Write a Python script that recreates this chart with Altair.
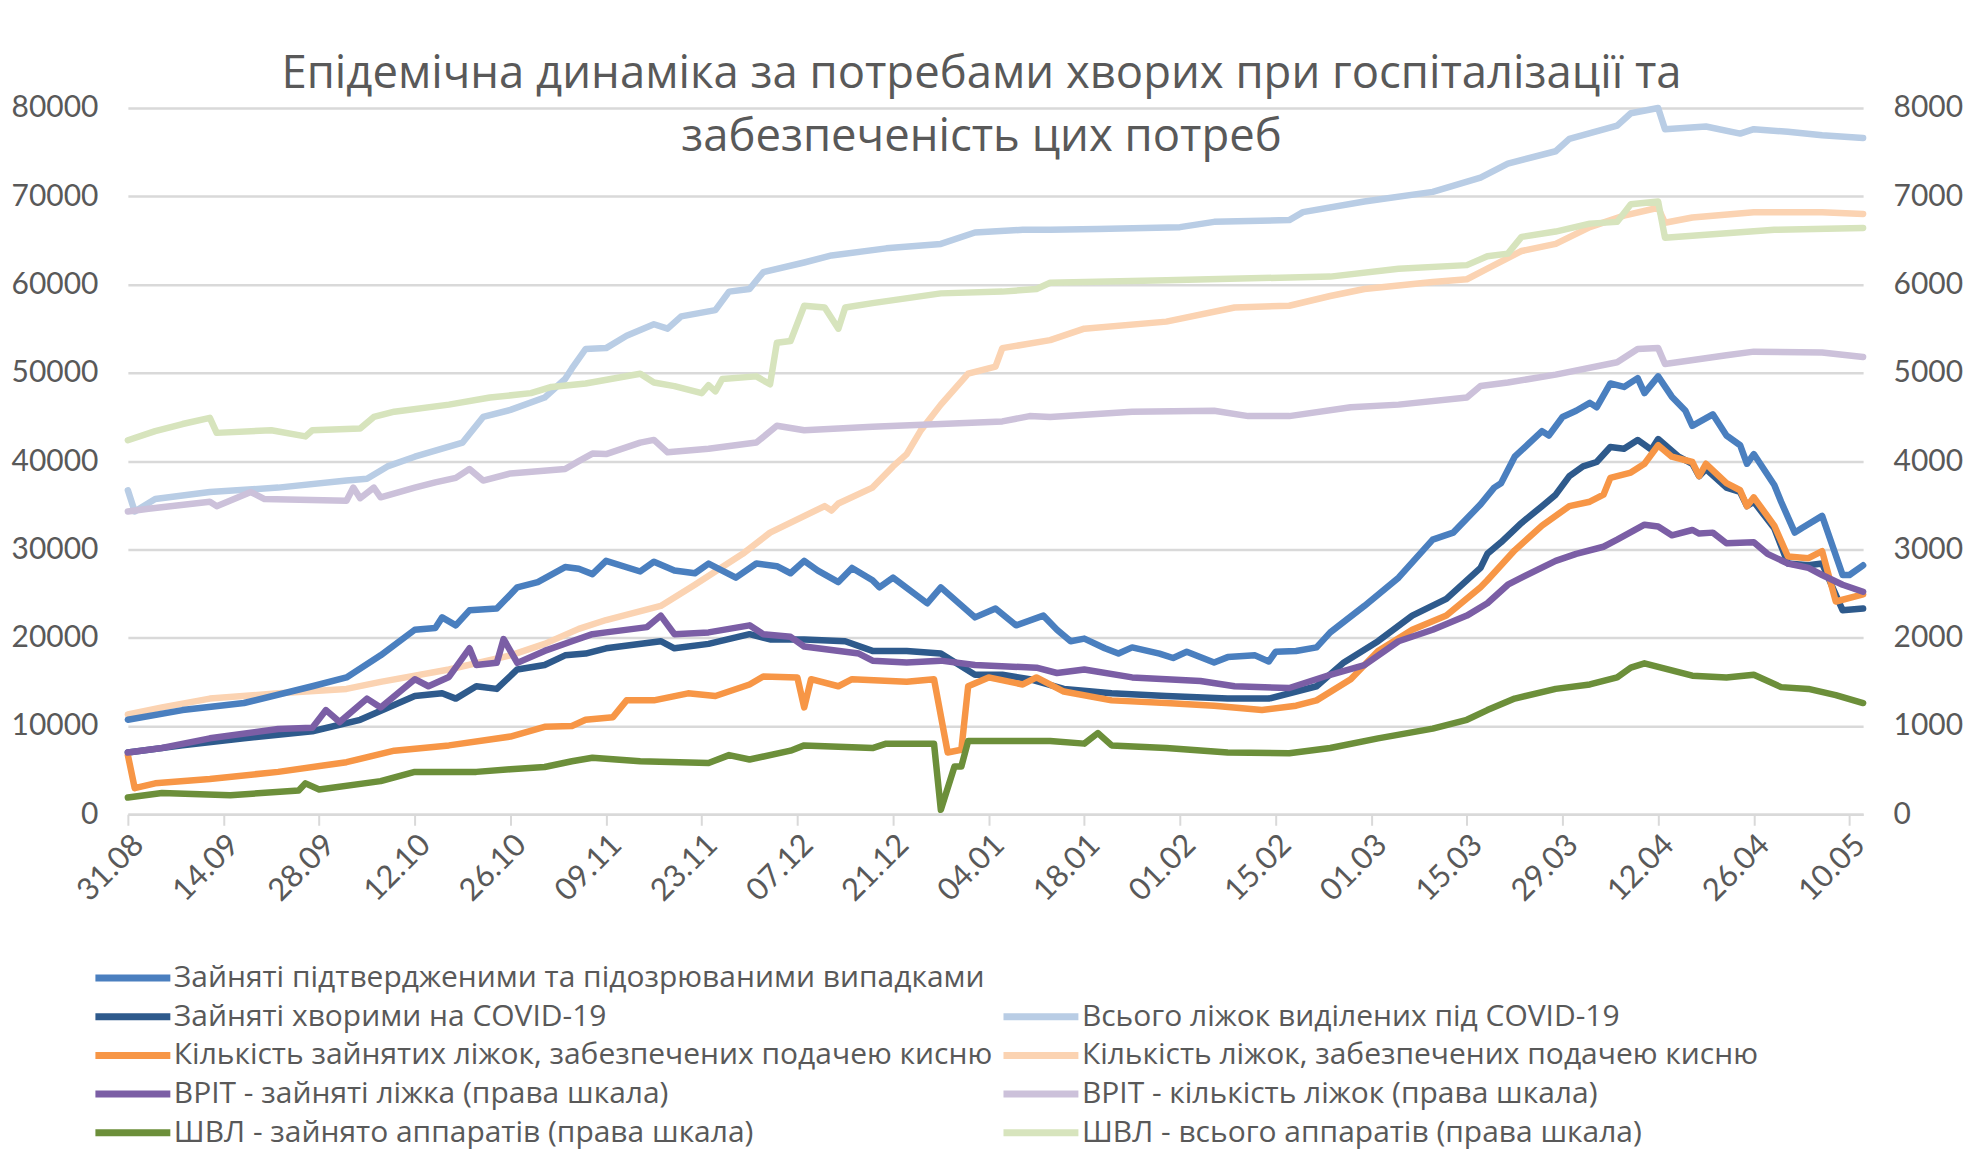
import altair as alt
import pandas as pd

START = pd.Timestamp("2020-08-31")
X_END = "2021-05-12"
TICK_DATES = ["2020-08-31", "2020-09-14", "2020-09-28", "2020-10-12", "2020-10-26",
              "2020-11-09", "2020-11-23", "2020-12-07", "2020-12-21", "2021-01-04",
              "2021-01-18", "2021-02-01", "2021-02-15", "2021-03-01", "2021-03-15",
              "2021-03-29", "2021-04-12", "2021-04-26", "2021-05-10"]

TITLE = ["Епідемічна динаміка за потребами хворих при госпіталізації та",
         "забезпеченість цих потреб"]

N_OCC = "Зайняті підтвердженими та підозрюваними випадками"
N_COV = "Зайняті хворими на COVID-19"
N_O2OCC = "Кількість зайнятих ліжок, забезпечених подачею кисню"
N_ICUOCC = "ВРІТ - зайняті ліжка (права шкала)"
N_VENTOCC = "ШВЛ - зайнято аппаратів (права шкала)"
N_TOTAL = "Всього ліжок виділених під COVID-19"
N_O2 = "Кількість ліжок, забезпечених подачею кисню"
N_ICU = "ВРІТ - кількість ліжок (права шкала)"
N_VENT = "ШВЛ - всього аппаратів (права шкала)"

# day offsets from 31.08.2020 and values
OCC_D = [0, 8, 17, 27, 32, 37, 42, 45, 46, 48, 50, 54, 57, 60, 64, 66, 68, 70, 75, 77, 80, 83, 85, 87, 89,
         92, 95, 97, 99, 101, 104, 106, 109, 110, 112, 117, 119, 124, 127, 130, 134, 136, 138, 140, 143,
         145, 147, 151, 153, 155, 159, 161, 165, 167, 168, 171, 174, 176, 181, 186, 191, 194, 198, 200,
         201, 203, 207, 208, 210, 212, 214, 215, 217, 219, 221, 222, 224, 226, 228, 229, 232, 234, 236,
         237, 238, 241, 242, 244, 245, 248, 251, 252, 254]
OCC_V = [10700, 11800, 12600, 14500, 15500, 18000, 20900, 21100, 22300, 21400, 23100, 23300, 25700, 26300,
         28000, 27800, 27200, 28700, 27500, 28600, 27600, 27300, 28400, 27600, 26800, 28400, 28100, 27300,
         28700, 27600, 26300, 27900, 26500, 25700, 26800, 23900, 25700, 22300, 23300, 21400, 22500, 20900,
         19600, 19900, 18800, 18200, 18900, 18200, 17700, 18400, 17200, 17800, 18000, 17300, 18400, 18500,
         18900, 20600, 23600, 26800, 31100, 31900, 35100, 37000, 37500, 40500, 43400, 42900, 45000, 45700,
         46600, 46100, 48800, 48400, 49400, 47700, 49600, 47300, 45700, 44000, 45300, 42900, 41800, 39700,
         40800, 37300, 35400, 31900, 32400, 33800, 27100, 27100, 28200]

COV_D = [0, 8, 17, 27, 34, 42, 46, 48, 51, 54, 57, 61, 64, 67, 70, 78, 80, 85, 91, 94, 99, 105, 109, 114,
         119, 124, 128, 132, 137, 144, 152, 161, 167, 174, 178, 183, 188, 193, 198, 199, 201, 204, 207,
         209, 211, 213, 215, 217, 219, 221, 223, 224, 227, 229, 230, 231, 234, 236, 237, 238, 241, 243,
         246, 248, 251, 254]
COV_V = [7000, 7800, 8600, 9400, 10700, 13400, 13700, 13100, 14500, 14200, 16400, 16900, 18000, 18200,
         18800, 19600, 18800, 19300, 20400, 19800, 19800, 19600, 18500, 18500, 18200, 15800, 15800, 15300,
         14200, 13700, 13400, 13100, 13100, 14500, 17200, 19600, 22500, 24400, 27900, 29500, 30800, 33000,
         34900, 36200, 38300, 39400, 39900, 41600, 41400, 42400, 41300, 42500, 40500, 39700, 38300, 39100,
         37000, 36500, 34900, 35400, 32400, 28400, 28200, 28400, 23100, 23300]

O2OCC_D = [0, 1, 4, 12, 22, 32, 39, 47, 56, 61, 65, 67, 71, 73, 77, 82, 86, 91, 93, 98, 99, 100, 104, 106,
           114, 118, 120, 122, 123, 126, 131, 133, 137, 144, 152, 159, 166, 171, 174, 179, 183, 188, 193,
           198, 199, 203, 207, 211, 214, 216, 217, 220, 222, 224, 226, 229, 230, 231, 234, 236, 237, 238,
           241, 243, 246, 248, 250, 254]
O2OCC_V = [6700, 2950, 3500, 4000, 4800, 5900, 7200, 7800, 8800, 9900, 10000, 10700, 11000, 12900, 12900,
           13700, 13400, 14700, 15600, 15500, 12100, 15300, 14500, 15300, 15000, 15300, 7000, 7300, 14500,
           15500, 14700, 15500, 13900, 12900, 12600, 12300, 11800, 12300, 12900, 15300, 18500, 20900, 22500,
           25700, 26500, 29900, 32700, 34900, 35400, 36200, 38100, 38700, 39700, 41800, 40500, 39900, 38300,
           39700, 37500, 36700, 34900, 35900, 32700, 29200, 29000, 29800, 24100, 24900]

TOTAL_D = [0, 1, 4, 12, 22, 32, 35, 38, 42, 49, 52, 56, 61, 64, 65, 67, 70, 73, 77, 79, 81, 86, 88, 91, 93,
           99, 103, 111, 119, 124, 131, 135, 142, 154, 159, 170, 172, 181, 191, 198, 202, 209, 211, 218,
           220, 224, 225, 231, 236, 238, 243, 248, 254]
TOTAL_V = [36700, 34300, 35700, 36500, 37000, 37800, 38000, 39400, 40500, 42100, 45000, 45800, 47200, 49300,
           50500, 52700, 52800, 54200, 55500, 55000, 56400, 57100, 59200, 59500, 61400, 62500, 63300, 64100,
           64600, 65900, 66200, 66200, 66300, 66500, 67100, 67300, 68200, 69400, 70500, 72100, 73700, 75100,
           76500, 78000, 79400, 80000, 77600, 77900, 77100, 77600, 77300, 76900, 76600]

O2_D = [0, 5, 12, 22, 32, 37, 47, 56, 61, 66, 70, 78, 83, 90, 94, 102, 103, 104, 109, 112, 114, 116, 119,
        123, 127, 128, 135, 140, 152, 162, 170, 176, 181, 191, 196, 199, 204, 209, 214, 219, 224, 225, 229,
        238, 248, 254]
O2_V = [11300, 12100, 13100, 13700, 14200, 15000, 16400, 18000, 19300, 21000, 22000, 23600, 26000, 29500,
        31900, 34900, 34400, 35200, 37000, 39400, 40800, 43400, 46400, 49900, 50700, 52800, 53700, 55000,
        55800, 57400, 57600, 58700, 59500, 60300, 60600, 61800, 63800, 64600, 66500, 67800, 68700, 67000,
        67600, 68200, 68200, 68000]

ICUOCC_D = [0, 5, 12, 22, 27, 29, 31, 35, 37, 42, 44, 47, 50, 51, 54, 55, 57, 61, 65, 68, 70, 76, 78, 80,
            85, 91, 93, 97, 99, 107, 109, 114, 119, 124, 133, 136, 140, 147, 157, 162, 170, 176, 181, 186,
            191, 196, 199, 202, 204, 209, 212, 216, 218, 222, 224, 226, 229, 230, 232, 234, 238, 240, 243,
            246, 248, 251, 254]
ICUOCC_V = [700, 750, 860, 965, 980, 1180, 1045, 1310, 1210, 1530, 1450, 1555, 1880, 1690, 1715, 1985, 1715,
            1850, 1960, 2040, 2060, 2120, 2250, 2040, 2060, 2140, 2040, 2010, 1900, 1820, 1740, 1720, 1740,
            1690, 1660, 1600, 1640, 1550, 1510, 1450, 1430, 1580, 1690, 1960, 2090, 2250, 2390, 2600, 2680,
            2870, 2950, 3030, 3110, 3280, 3260, 3160, 3220, 3180, 3190, 3070, 3080, 2950, 2840, 2790, 2710,
            2600, 2520]

ICU_D = [0, 3, 12, 13, 18, 20, 32, 33, 34, 36, 37, 42, 45, 48, 50, 52, 56, 64, 66, 68, 70, 75, 77, 79, 85,
         92, 95, 99, 109, 119, 128, 132, 135, 147, 159, 164, 170, 179, 186, 196, 198, 202, 209, 218, 221,
         224, 225, 234, 238, 248, 254]
ICU_V = [3430, 3460, 3540, 3490, 3650, 3570, 3550, 3700, 3580, 3700, 3590, 3700, 3760, 3810, 3910, 3780,
         3860, 3910, 4000, 4085, 4080, 4210, 4240, 4100, 4140, 4210, 4400, 4350, 4390, 4420, 4450, 4510,
         4500, 4560, 4570, 4510, 4510, 4610, 4640, 4720, 4850, 4890, 4980, 5120, 5270, 5280, 5100, 5200,
         5240, 5230, 5180]

VENTOCC_D = [0, 5, 15, 25, 26, 28, 37, 42, 51, 56, 61, 65, 68, 75, 85, 88, 91, 97, 99, 109, 111, 118, 119,
             121, 122, 123, 135, 140, 142, 144, 152, 161, 170, 176, 183, 191, 196, 199, 203, 209, 214, 218,
             220, 222, 229, 234, 238, 242, 246, 250, 254]
VENTOCC_V = [190, 240, 215, 270, 350, 280, 375, 480, 480, 510, 535, 600, 640, 600, 580, 670, 620, 720, 780,
             750, 800, 800, 50, 540, 540, 830, 830, 800, 920, 780, 750, 700, 690, 750, 860, 970, 1070, 1180,
             1310, 1420, 1470, 1550, 1660, 1710, 1570, 1550, 1580, 1440, 1420, 1350, 1260]

VENT_D = [0, 4, 8, 12, 13, 21, 26, 27, 34, 36, 39, 47, 53, 59, 62, 67, 75, 77, 80, 84, 85, 86, 87, 92, 94,
          95, 97, 99, 102, 104, 105, 109, 119, 128, 133, 135, 152, 176, 186, 196, 199, 202, 204, 209, 214,
          218, 220, 224, 225, 234, 241, 254]
VENT_V = [4236, 4340, 4420, 4490, 4320, 4350, 4280, 4350, 4370, 4500, 4560, 4640, 4720, 4770, 4840, 4880,
          4990, 4890, 4850, 4770, 4860, 4790, 4930, 4960, 4870, 5340, 5360, 5760, 5740, 5500, 5740, 5790,
          5900, 5920, 5950, 6020, 6050, 6090, 6180, 6220, 6320, 6350, 6540, 6600, 6690, 6710, 6910, 6940,
          6530, 6580, 6620, 6640]

DARK_NAMES = [N_OCC, N_COV, N_O2OCC, N_ICUOCC, N_VENTOCC]
DARK_COLORS = ["#4A7FBF", "#2E5A8C", "#F79646", "#7B5EA5", "#6C8F3A"]
LIGHT_NAMES = [N_TOTAL, N_O2, N_ICU, N_VENT]
LIGHT_COLORS = ["#B9CDE5", "#FBD3B2", "#CCC1DA", "#D7E4BD"]


def frame(name, days, vals):
    assert len(days) == len(vals)
    return pd.DataFrame({
        "date": [(START + pd.Timedelta(days=int(d))).strftime("%Y-%m-%d") for d in days],
        "value": vals,
        "series": name,
    })


dark_left = pd.concat([frame(N_OCC, OCC_D, OCC_V), frame(N_COV, COV_D, COV_V),
                       frame(N_O2OCC, O2OCC_D, O2OCC_V)])
light_left = pd.concat([frame(N_TOTAL, TOTAL_D, TOTAL_V), frame(N_O2, O2_D, O2_V)])
dark_right = pd.concat([frame(N_ICUOCC, ICUOCC_D, ICUOCC_V), frame(N_VENTOCC, VENTOCC_D, VENTOCC_V)])
light_right = pd.concat([frame(N_ICU, ICU_D, ICU_V), frame(N_VENT, VENT_D, VENT_V)])


def dt(s):
    y, m, d = (int(p) for p in s.split("-"))
    return alt.DateTime(year=y, month=m, date=d, utc=True)


FONT = "Lato"
TFONT = "Open Sans"
GREY = "#595959"
GRID = "#D9D9D9"

x_enc = alt.X(
    "date:T",
    scale=alt.Scale(type="utc", domain=[dt(TICK_DATES[0]), dt(X_END)]),
    axis=alt.Axis(values=[dt(s) for s in TICK_DATES], format="%d.%m", labelAngle=-45,
                  title=None, grid=False, domainColor=GRID, domainWidth=2.5,
                  tickColor=GRID, tickWidth=2, tickSize=11, labelFontSize=31,
                  labelColor=GREY, labelFont=FONT, labelPadding=4),
)

left_axis = alt.Axis(values=list(range(0, 80001, 10000)), format="d", title=None, grid=True,
                     gridColor=GRID, gridWidth=2.5, domain=False, ticks=False, labelFontSize=30,
                     labelColor=GREY, labelFont=FONT, labelPadding=30)
right_axis = alt.Axis(values=list(range(0, 8001, 1000)), format="d", title=None, grid=False,
                      orient="right", domain=False, ticks=False, labelFontSize=30, labelColor=GREY,
                      labelFont=FONT, labelPadding=30)

y_left = alt.Y("value:Q", scale=alt.Scale(domain=[0, 80000], nice=False), axis=left_axis)
y_right = alt.Y("value:Q", scale=alt.Scale(domain=[0, 8000], nice=False), axis=right_axis)

legend_common = dict(orient="none", direction="vertical", title=None, symbolType="stroke",
                     symbolStrokeWidth=7, symbolSize=5625, labelFont=TFONT, labelFontSize=30,
                     labelColor=GREY, labelLimit=2000, labelOffset=0, clipHeight=30, rowPadding=8.7)

dark_color = alt.Color("series:N", scale=alt.Scale(domain=DARK_NAMES, range=DARK_COLORS),
                       legend=alt.Legend(legendX=-36, legendY=856, **legend_common))
light_stroke = alt.Stroke("series:N", scale=alt.Scale(domain=LIGHT_NAMES, range=LIGHT_COLORS),
                          legend=alt.Legend(legendX=873, legendY=894.7, **legend_common))

line = dict(strokeWidth=6.5, strokeJoin="round", strokeCap="round")

ll = alt.Chart(light_left).mark_line(**line).encode(x=x_enc, y=y_left, stroke=light_stroke)
dl = alt.Chart(dark_left).mark_line(**line).encode(x=x_enc, y=y_left, color=dark_color)
lr = alt.Chart(light_right).mark_line(**line).encode(x=x_enc, y=y_right, stroke=light_stroke)
dr = alt.Chart(dark_right).mark_line(**line).encode(x=x_enc, y=y_right, color=dark_color)

chart = alt.layer(alt.layer(ll, dl), alt.layer(lr, dr)).resolve_scale(y="independent").properties(
    width=1737, height=707,
    padding={"top": 43.5, "left": 2, "right": 0, "bottom": 0},
    background="white",
    title=alt.TitleParams(TITLE, fontSize=45.5, font=TFONT, color=GREY, fontWeight="normal",
                          lineHeight=63, anchor="middle", offset=-67.5, dx=-14),
).configure_view(stroke=None)

chart.save("out.html", embed_options={"renderer": "svg", "actions": False})
